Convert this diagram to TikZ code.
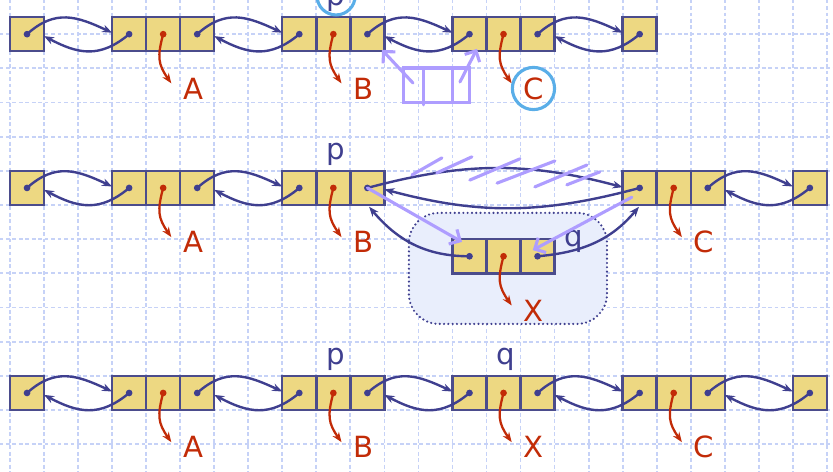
\documentclass[tikz,border=0pt]{standalone}
\usepackage{fontspec}
\setmainfont{DejaVu Sans}
\usetikzlibrary{arrows.meta}
\definecolor{boxfill}{HTML}{EDD882}
\definecolor{boxline}{HTML}{4B4C8C}
\definecolor{linkc}{HTML}{3F3F8F}
\definecolor{redc}{HTML}{C22B07}
\definecolor{violc}{HTML}{AE9DFF}
\definecolor{circc}{HTML}{5AAEE8}
\definecolor{gridc}{HTML}{C6D2F7}
\definecolor{groupfill}{HTML}{E9EEFC}
\newcommand{\onebox}[3]{%
  \node[cell, alias=#1l] (#1r) at (#2,#3) {};
  \fill[linkc] (#1r.center) circle (1.4pt);}
\newcommand{\tribox}[3]{%
  \node[cell] (#1l) at (#2,#3) {};
  \node[cell] (#1m) at (#2+1,#3) {};
  \node[cell] (#1r) at (#2+2,#3) {};
  \fill[linkc] (#1l.center) circle (1.4pt);
  \fill[redc] (#1m.center) circle (1.4pt);
  \fill[linkc] (#1r.center) circle (1.4pt);}
\newcommand{\lnk}[2]{%
  \draw[link] (#1r.center) to[out=42,in=155,looseness=1.15] ([yshift=0.6pt]#2l.west);
  \draw[link] (#2l.center) to[out=-140,in=-28,looseness=1.15] ([yshift=-0.8pt]#1r.east);}
\newcommand{\rlab}[2]{%
  \node[redlab] (#1t) at ([shift={(0.88,-1.59)}]#1m.center) {#2};
  \draw[redarr] (#1m.center) to[out=-105,in=125,looseness=1.2] ([shift={(0.24,-1.44)}]#1m.center);}
\begin{document}
\begin{tikzpicture}[x=0.5cm,y=0.502cm,
  gridline/.style={draw=gridc, line width=0.75pt, dash pattern=on 1.6pt off 1.1pt},
  cell/.style={draw=boxline, fill=boxfill, line width=1pt, minimum width=0.5cm, minimum height=0.502cm, inner sep=0pt, outer sep=0pt},
  link/.style={draw=linkc, line width=1pt, -{Stealth[length=4.2pt,width=3.2pt]}},
  redarr/.style={draw=redc, line width=0.95pt, -{Stealth[length=4.2pt,width=3.2pt]}},
  lab/.style={font=\fontsize{12.2}{14}\selectfont, inner sep=0pt},
  redlab/.style={lab, text=redc},
  ptxt/.style={lab, text=linkc, anchor=base},
  circ/.style={draw=circc, line width=1.3pt},
  viol/.style={draw=violc, line width=1.3pt, line cap=round},
  varrow/.style={viol, -{Straight Barb[length=3.5pt,width=7pt]}},
  groupbox/.style={draw=linkc, fill=groupfill, line width=1pt, line cap=round, dash pattern=on 0pt off 1.8pt, rounded corners=0.44cm}]
\useasboundingbox (-0.294,0) rectangle (24.18,-13.81);
\clip (-0.294,0) rectangle (24.18,-13.81);
\foreach \i in {0,...,24} \draw[gridline] (\i,0.2) -- (\i,-14);
\foreach \j in {1,...,13} \draw[gridline] (-0.5,-\j) -- (24.5,-\j);

% ---------- row 1 ----------
\onebox{a1}{0.5}{-1}
\tribox{b1}{3.5}{-1}
\tribox{c1}{8.5}{-1}
\tribox{d1}{13.5}{-1}
\onebox{e1}{18.5}{-1}
\lnk{a1}{b1}\lnk{b1}{c1}\lnk{c1}{d1}\lnk{d1}{e1}
\rlab{b1}{A}\rlab{c1}{B}\rlab{d1}{C}
\node[ptxt] (p1) at ([xshift=1pt,yshift=4.8pt]c1m.north) {p};
\draw[circ] (9.58,0.12) circle (0.28cm);
\draw[circ] (d1t.center) circle (0.31cm);
% sketch
\draw[viol] (11.55,-1.99) rectangle (13.51,-2.99);
\draw[viol] (12.16,-1.99) -- (12.16,-3.07);
\draw[viol] (13.01,-1.99) -- (13.01,-2.99);
\draw[varrow] (11.84,-2.43) -- ([shift={(-0.07,0.04)}]c1r.south east);
\draw[varrow] (13.22,-2.4) -- ([shift={(0.22,0.07)}]d1l.south);

% ---------- row 2 ----------
\draw[groupbox] (11.72,-6.23) rectangle (17.54,-9.48);
\onebox{a2}{0.5}{-5.5}
\tribox{b2}{3.5}{-5.5}
\tribox{c2}{8.5}{-5.5}
\tribox{d2}{18.5}{-5.5}
\onebox{e2}{23.5}{-5.5}
\tribox{x2}{13.5}{-7.5}
\lnk{a2}{b2}\lnk{b2}{c2}\lnk{d2}{e2}
\draw[link] (c2r.center) to[out=15,in=165] ([yshift=0.3pt]d2l.west);
\draw[link] (d2l.center) to[out=-165,in=-15] ([yshift=-0.6pt]c2r.east);
\draw[link] (x2l.center) to[out=180,in=-50] ([shift={(0.05,-0.05)}]c2r.south);
\draw[link] (x2r.center) to[out=5,in=-130] ([shift={(-0.02,-0.05)}]d2l.south);
\rlab{b2}{A}\rlab{c2}{B}\rlab{d2}{C}\rlab{x2}{X}
\node[ptxt] (p2) at ([xshift=1pt,yshift=4.8pt]c2m.north) {p};
\node[ptxt] (q2) at ([shift={(1.05,0.3)}]x2r.center) {q};
% crossing-out hatch
\draw[viol] (11.81,-5.12) -- (12.69,-4.62);
\draw[viol] (12.54,-5.06) -- (13.57,-4.59);
\draw[viol] (13.51,-5.27) -- (14.98,-4.65);
\draw[viol] (14.31,-5.36) -- (16.01,-4.71);
\draw[viol] (15.42,-5.47) -- (16.95,-4.83);
\draw[viol] (16.36,-5.41) -- (17.33,-5.03);
\draw[varrow] (c2r.center) -- ([shift={(-0.22,0.42)}]x2l.center);
\draw[varrow] ([shift={(-0.23,-0.27)}]d2l.center) -- ([shift={(-0.14,0.18)}]x2r.center);

% ---------- row 3 ----------
\onebox{a3}{0.5}{-11.5}
\tribox{b3}{3.5}{-11.5}
\tribox{c3}{8.5}{-11.5}
\tribox{d3}{13.5}{-11.5}
\tribox{e3}{18.5}{-11.5}
\onebox{f3}{23.5}{-11.5}
\lnk{a3}{b3}\lnk{b3}{c3}\lnk{c3}{d3}\lnk{d3}{e3}\lnk{e3}{f3}
\rlab{b3}{A}\rlab{c3}{B}\rlab{d3}{X}\rlab{e3}{C}
\node[ptxt] (p3) at ([xshift=1pt,yshift=4.8pt]c3m.north) {p};
\node[ptxt] (q3) at ([xshift=1pt,yshift=4.8pt]d3m.north) {q};
\end{tikzpicture}
\end{document}
